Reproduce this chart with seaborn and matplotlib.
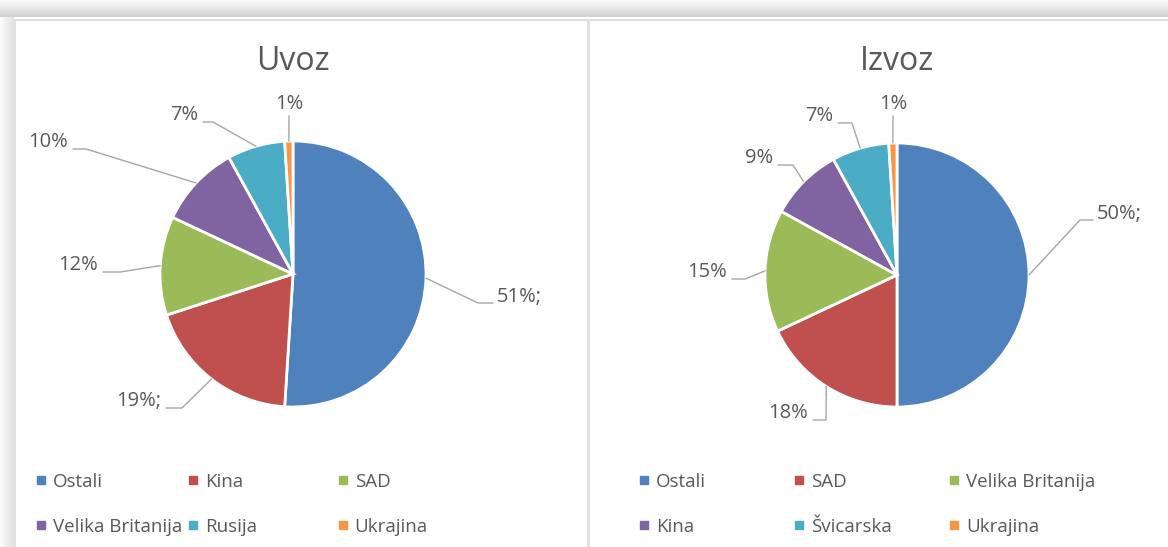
import numpy as np
import matplotlib
matplotlib.use("Agg")
import matplotlib.pyplot as plt
from matplotlib.lines import Line2D
import seaborn as sns

# data
uvoz_labels = ["Ostali", "Kina", "SAD", "Velika Britanija", "Rusija", "Ukrajina"]
uvoz_values = [51, 19, 12, 10, 7, 1]
uvoz_texts = ["51%;", "19%;", "12%", "10%", "7%", "1%"]

izvoz_labels = ["Ostali", "SAD", "Velika Britanija", "Kina", "Švicarska", "Ukrajina"]
izvoz_values = [50, 18, 15, 9, 7, 1]
izvoz_texts = ["50%;", "18%", "15%", "9%", "7%", "1%"]

office = ["#4F81BD", "#C0504D", "#9BBB59", "#8064A2", "#4BACC6", "#F79646"]

sns.set_theme(style="white")
plt.rcParams["font.family"] = ["Open Sans", "DejaVu Sans"]
TXT = "#595959"
W, H = 1168, 547

fig = plt.figure(figsize=(W / 100, H / 100), dpi=100)
fig.patch.set_facecolor("white")

# background: screenshot shadow and panel borders, in pixel coords
bg = fig.add_axes([0, 0, 1, 1])
bg.set_xlim(0, W)
bg.set_ylim(H, 0)
bg.axis("off")
top = np.linspace(0.975, 0.82, 17).reshape(-1, 1)
bg.imshow(top, cmap="gray", vmin=0, vmax=1, aspect="auto", extent=(0, W, 17, 0))
left = np.linspace(0.985, 0.88, 14).reshape(1, -1)
bg.imshow(left, cmap="gray", vmin=0, vmax=1, aspect="auto", extent=(0, 14, H, 17))
bg.plot([15, W], [19.5, 19.5], color="#dddddd", lw=1.6)
bg.plot([15, 15], [19.5, H], color="#dcdcdc", lw=1.2)
bg.plot([587.5, 587.5], [19.5, H], color="#e2e2e2", lw=2.2)


def draw_pie(x0, x1, cx, cy, r, title, labels, values, texts, layout, legend_x):
    ax = fig.add_axes([x0 / W, 0, (x1 - x0) / W, (H - 21) / H])
    colors = sns.color_palette(office, len(values))
    wedges, _ = ax.pie(values, colors=colors, startangle=90, counterclock=False,
                       wedgeprops=dict(edgecolor="white", linewidth=2.0))
    ax.set_xlim((x0 - cx) / r, (x1 - cx) / r)
    ax.set_ylim((cy - H) / r, (cy - 21) / r)
    ax.set_aspect("auto")
    ax.axis("off")

    def to_data(px, py):
        return (px - cx) / r, (cy - py) / r

    tx, ty = to_data(cx, 62)
    ax.text(tx, ty, title, ha="center", va="center", fontsize=23, color=TXT)

    # data labels with Excel style leader lines
    for w, t, (lx, ly, ha, elbow) in zip(wedges, texts, layout):
        mid = np.deg2rad((w.theta1 + w.theta2) / 2)
        ex, ey = np.cos(mid), np.sin(mid)
        if ha == "left":
            sx, sy = lx - 4, ly + 6
            kx = sx - elbow
        elif ha == "right":
            sx, sy = lx + 5, ly + 7
            kx = sx + elbow
        else:
            sx, sy = lx, ly + 12
            kx = sx
        p0 = to_data(sx, sy)
        p1 = to_data(kx, sy)
        ax.plot([p0[0], p1[0], ex], [p0[1], p1[1], ey], color="#a6a6a6", lw=1.0,
                solid_joinstyle="miter")
        ax.text(*to_data(lx, ly), t, ha=ha, va="center", fontsize=14.5, color=TXT)

    # legend, 3 columns x 2 rows, filled row-wise like Excel
    for i, (lab, col) in enumerate(zip(labels, colors)):
        row, c = divmod(i, 3)
        h = Line2D([], [], marker="s", ls="", markersize=6, color=col)
        fig.legend(handles=[h], labels=[lab], loc="center left",
                   bbox_to_anchor=(legend_x[c] - 6, 482 + 45 * row),
                   bbox_transform=bg.transData, frameon=False, borderpad=0,
                   borderaxespad=0, handlelength=0.7, handletextpad=0.3,
                   fontsize=13.5, labelcolor=TXT)


uvoz_layout = [
    (497, 297, "left", 15),
    (161, 401, "right", 16),
    (98, 265, "right", 17),
    (68, 142, "right", 13),
    (198, 115, "right", 10),
    (289, 104, "center", 0),
]
izvoz_layout = [
    (1097, 214, "left", 13),
    (808, 413, "right", 13),
    (727, 272, "right", 13),
    (773, 158, "right", 15),
    (833, 116, "right", 14),
    (893, 104, "center", 0),
]

draw_pie(16, 586, 293, 274, 133, "Uvoz", uvoz_labels, uvoz_values, uvoz_texts,
         uvoz_layout, [40, 192, 342])
draw_pie(589, W, 897, 275, 132, "Izvoz", izvoz_labels, izvoz_values, izvoz_texts,
         izvoz_layout, [643, 798, 953])

fig.savefig("out.png", dpi=100, facecolor="white")
